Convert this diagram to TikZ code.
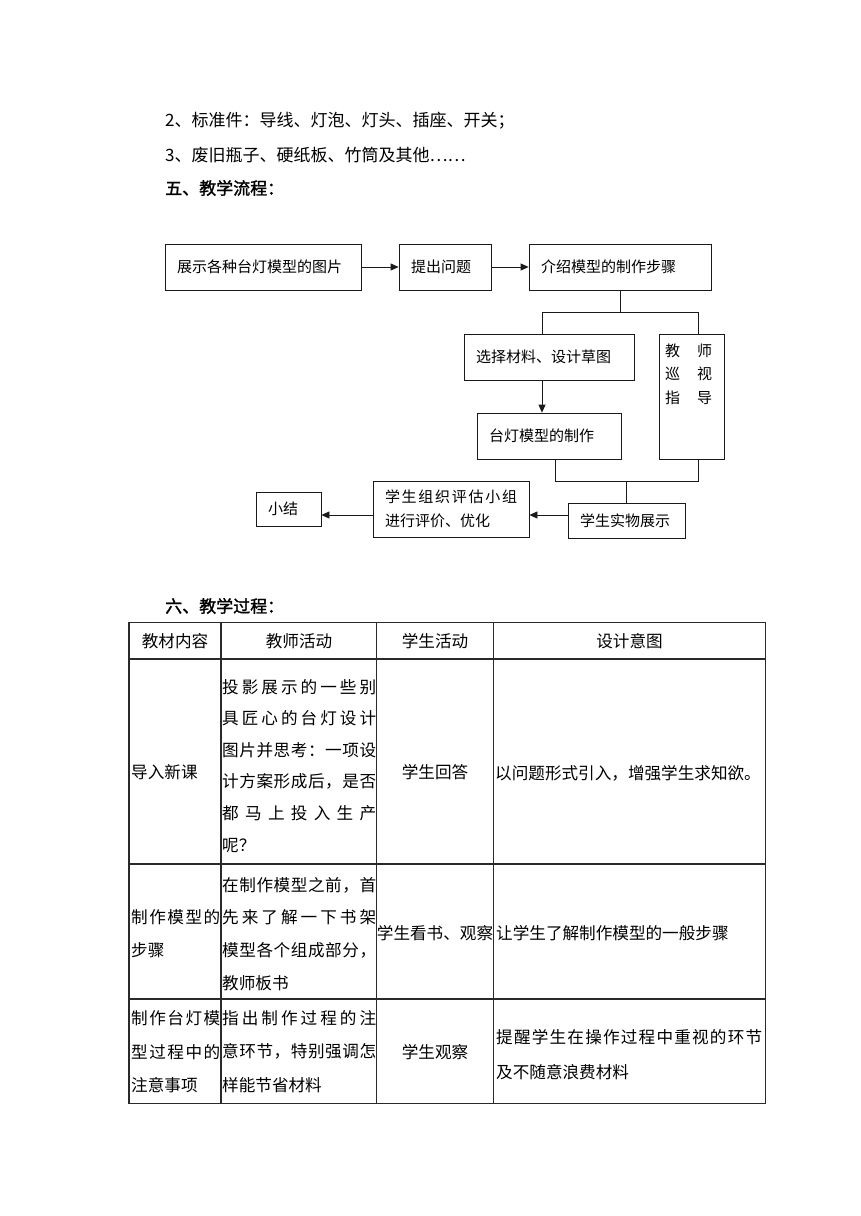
\documentclass[tikz,border=0pt]{standalone}
\usepackage{fontspec}
\setmainfont{Noto Sans CJK SC}
\newfontfamily\boldcjk[FakeBold=1.5]{Noto Sans CJK SC}
\usetikzlibrary{arrows.meta}
\definecolor{ink}{HTML}{1A1A1A}
\definecolor{rule}{HTML}{2A2A2A}
\newcommand{\bodyfont}{\fontsize{17}{20}\selectfont}
\newcommand{\flowfont}{\fontsize{15}{23.5}\selectfont}
\newcommand{\cellfont}{\fontsize{16.6}{20}\selectfont}
% spread the characters of a line over a given width
\def\spreadloop#1#2{#1\ifx\relax#2\else\hfill\expandafter\spreadloop\expandafter#2\fi}
\newcommand{\jl}[2]{\makebox[#1pt][l]{\expandafter\spreadloop#2\relax}}
\tikzset{
  fbox/.style={draw=ink, line width=0.8pt, align=left, font=\flowfont,
               inner xsep=12pt, inner ysep=0pt},
  ar/.style={-{Triangle[length=8pt,width=7pt]}, line width=0.8pt, draw=ink},
  ln/.style={line width=0.8pt, draw=ink},
  hd/.style={anchor=west, inner sep=0pt, font=\bodyfont},
  hdbold/.style={hd, font=\bodyfont\boldcjk},
  cell/.style={anchor=west, inner sep=0pt, font=\cellfont},
  ccell/.style={inner sep=0pt, font=\cellfont},
  tabrule/.style={line width=1.4pt, draw=rule}
}

\begin{document}
\begin{tikzpicture}[x=1pt,y=-1pt]
  \fill[white] (0,0) rectangle (860,1216);
  \useasboundingbox (0,0) rectangle (860,1216);

  \node[hd] (item2) at (165,121) {2、标准件：导线、灯泡、灯头、插座、开关；};
  \node[hd] (item3) at (165,155) {3、废旧瓶子、硬纸板、竹筒及其他……};
  \node[hdbold] (sec5) at (165,188) {五、教学流程：};

  % flow chart
  \node[fbox, text width=172pt, minimum height=46pt] (show) at (263,267) {展示各种台灯模型的图片};
  \node[fbox, text width=68pt, minimum height=46pt] (ask) at (445,267) {提出问题};
  \node[fbox, text width=158pt, minimum height=46pt] (intro) at (620,267) {介绍模型的制作步骤};
  \node[fbox, text width=146pt, minimum height=46pt] (pick) at (549,357) {选择材料、设计草图};
  \node[fbox, text width=41pt, minimum height=125pt] (tour) at (691.5,396.5) {};
  \node[anchor=north west, inner sep=0pt, font=\flowfont, align=left] (tourtxt) at (665,343.5)
    {教\hspace{17pt}师\\巡\hspace{17pt}视\\指\hspace{17pt}导};
  \node[fbox, text width=120pt, minimum height=46pt] (make) at (549,436) {台灯模型的制作};
  \node[fbox, text width=93pt, minimum height=35pt] (exhib) at (626.5,520.5) {学生实物展示};
  \node[fbox, text width=132pt, minimum height=56pt] (rate) at (451,509) {\jl{132}{学生组织评估小组}\\进行评价、优化};
  \node[fbox, text width=41pt, minimum height=34pt] (summ) at (288.5,509) {小结};

  \draw[ar] (show) -- (ask);
  \draw[ar] (ask) -- (intro);
  \draw[ln] (intro.south) -- ++(0,22) coordinate (fork);
  \draw[ln] ([xshift=-7pt]pick.north) |- (fork) -| ([xshift=6.5pt]tour.north);
  \draw[ar] ([xshift=-7pt]pick.south) -- ([xshift=-7pt]make.north);
  \draw[ln] ([xshift=6pt]make.south) -- ++(0,22) coordinate (join) -| ([xshift=6.5pt]tour.south);
  \draw[ln] (exhib.north) -- (exhib.north |- join);
  \draw[ar] ([yshift=5.5pt]exhib.west) -- ([yshift=-6pt]rate.east);
  \draw[ar] ([yshift=-6pt]rate.west) -- ([yshift=-6pt]summ.east);

  \node[hdbold] (sec6) at (165,606) {六、教学过程：};

  % table
  \draw[tabrule] (129,622.5) rectangle (765.7,1103.5);
  \foreach \x in {221,376.7,493.3}
    \draw[tabrule] (\x,622.5) -- (\x,1103.5);
  \foreach \y in {659,864,999}
    \draw[tabrule] (129,\y) -- (765.7,\y);

  \foreach \i/\x/\t in {1/175/教材内容, 2/299/教师活动, 3/435/学生活动, 4/629.5/设计意图}
    \node[ccell] (head\i) at (\x,641) {\t};

  \node[cell] (r1c1) at (131,771.7) {导入新课};
  \foreach \i/\y/\t in {1/687/投影展示的一些别, 2/718.6/具匠心的台灯设计,
                        3/750.2/图片并思考：一项设, 4/781.8/计方案形成后，是否,
                        5/813.4/都马上投入生产}
    \node[cell] (r1c2-\i) at (222,\y) {\jl{154}{\t}};
  \node[cell] (r1c2-6) at (222,845) {呢？};
  \node[ccell] (r1c3) at (435,771.7) {学生回答};
  \node[cell] (r1c4) at (495,773) {以问题形式引入，增强学生求知欲。};

  \node[cell] (r2c1-1) at (131,916.7) {\jl{89}{制作模型的}};
  \node[cell] (r2c1-2) at (131,950) {步骤};
  \foreach \i/\y/\t in {1/885/在制作模型之前，首, 2/917.5/先来了解一下书架,
                        3/950/模型各个组成部分，}
    \node[cell] (r2c2-\i) at (222,\y) {\jl{154}{\t}};
  \node[cell] (r2c2-4) at (222,983) {教师板书};
  \node[ccell] (r2c3) at (435,933.3) {学生看书、观察};
  \node[cell] (r2c4) at (496,933.3) {让学生了解制作模型的一般步骤};

  \foreach \i/\y/\t in {1/1018.3/制作台灯模, 2/1051.7/型过程中的}
    \node[cell] (r3c1-\i) at (131,\y) {\jl{89}{\t}};
  \node[cell] (r3c1-3) at (131,1085) {注意事项};
  \foreach \i/\y/\t in {1/1018.3/指出制作过程的注, 2/1051.7/意环节，特别强调怎}
    \node[cell] (r3c2-\i) at (222,\y) {\jl{154}{\t}};
  \node[cell] (r3c2-3) at (222,1085) {样能节省材料};
  \node[ccell] (r3c3) at (435,1051.7) {学生观察};
  \node[cell] (r3c4-1) at (496,1036.7) {\jl{266}{提醒学生在操作过程中重视的环节}};
  \node[cell] (r3c4-2) at (496,1071.7) {及不随意浪费材料};
\end{tikzpicture}
\end{document}
